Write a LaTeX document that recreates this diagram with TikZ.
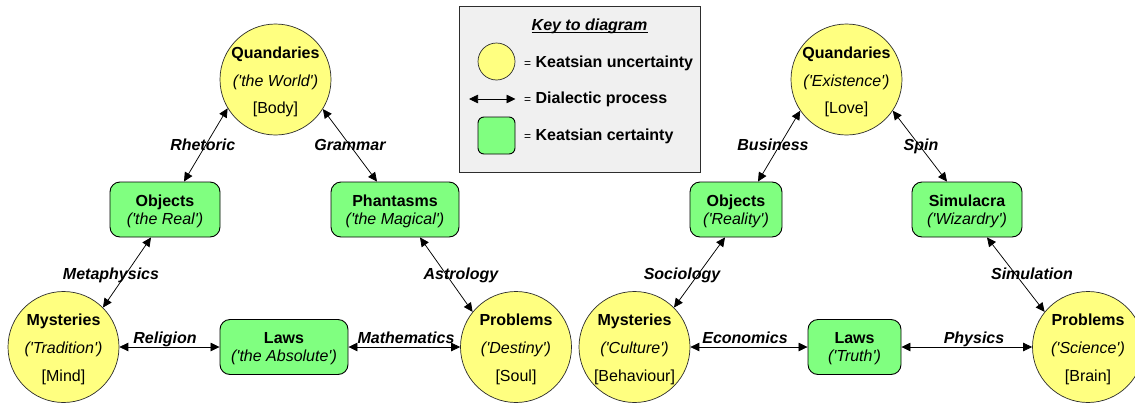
\documentclass[tikz,border=0pt]{standalone}
\usepackage{fontspec}
\setmainfont{Liberation Sans}
\usetikzlibrary{arrows.meta}

\definecolor{ucfill}{RGB}{255,255,128}
\definecolor{cfill}{RGB}{128,255,128}
\definecolor{keyfill}{RGB}{240,240,240}
\definecolor{rimgray}{RGB}{45,45,45}

\newcommand\sq{\textquotesingle}
% three stacked lines (bold / italic / plain), 27.6pt apart,
% centred on the caps of the middle line
\newcommand\trio[3]{{\renewcommand\arraystretch{0}\setlength\tabcolsep{0pt}%
  \begin{tabular}{c}
  \rule[-15.9pt]{0pt}{32.9pt}\bfseries #1\\
  \rule[-15.9pt]{0pt}{27.6pt}\itshape #2\\
  \rule[-4pt]{0pt}{15.7pt}#3
  \end{tabular}}}
% two stacked lines (bold / italic), 18pt apart
\newcommand\duo[2]{{\renewcommand\arraystretch{0}\setlength\tabcolsep{0pt}%
  \begin{tabular}{c}
  \rule[-6pt]{0pt}{21pt}\bfseries #1\\
  \rule[-4pt]{0pt}{16pt}\itshape #2
  \end{tabular}}}

\begin{document}
\begin{tikzpicture}[x=1pt,y=-1pt,
  every node/.append style={font=\fontsize{16pt}{18pt}\selectfont},
  ucirc/.style={circle, draw=rimgray, line width=0.7pt, fill=ucfill,
                minimum size=111pt, inner sep=0pt},
  cbox/.style={rectangle, rounded corners=10pt, draw=black, line width=0.9pt,
               fill=cfill, minimum height=55pt, inner sep=0pt},
  ctxt/.style={inner sep=0pt},
  dia/.style={arrows={Triangle[length=9pt,width=8.5pt]-Triangle[length=9pt,width=8.5pt]},
              line width=0.75pt},
  lab/.style={anchor=base, inner sep=0pt,
              font=\fontsize{16pt}{18pt}\selectfont\bfseries\itshape},
  keybox/.style={rectangle, draw=rimgray, line width=1pt, fill=keyfill,
                 minimum width=241pt, minimum height=166.5pt, inner sep=0pt},
  keytxt/.style={anchor=base west, inner sep=0pt,
                 font=\fontsize{16pt}{18pt}\selectfont\bfseries}]

\fill[white] (0,0) rectangle (1135,402);
\useasboundingbox (0,0) rectangle (1135,402);

% ---------- left triad ----------
\node[ucirc] (QL) at (275.5,79.5) {};
\node[ctxt] (QLt) at (QL) {\trio{Quandaries}{(\sq the World\sq)}{[Body]}};
\node[cbox, minimum width=110pt] (ObjL) at (165,209.5) {\duo{Objects}{(\sq the Real\sq)}};
\node[cbox, minimum width=128pt] (PhL) at (395,209.5) {\duo{Phantasms}{(\sq the Magical\sq)}};
\node[ucirc] (MyL) at (63.5,347) {};
\node[ctxt] (MyLt) at (MyL) {\trio{Mysteries}{(\sq Tradition\sq)}{[Mind]}};
\node[cbox, minimum width=128pt] (LawL) at (284,347) {\duo{Laws}{(\sq the Absolute\sq)}};
\node[ucirc] (PrL) at (516,347) {};
\node[ctxt] (PrLt) at (PrL) {\trio{Problems}{(\sq Destiny\sq)}{[Soul]}};

\draw[dia] (QL.211.5) -- ([xshift=19pt]ObjL.north);
\draw[dia] (QL.328.5) -- ([xshift=-18pt]PhL.north);
\draw[dia] ([xshift=-14pt]ObjL.south) -- (MyL.45);
\draw[dia] ([xshift=25pt]PhL.south) -- (PrL.141);
\draw[dia] (MyL) -- (LawL);
\draw[dia] (LawL) -- (PrL);

\node[lab] (lRhet) at (202.7,150) {Rhetoric};
\node[lab] (lGram) at (350,150) {Grammar};
\node[lab] (lMeta) at (111,279) {Metaphysics};
\node[lab] (lAstr) at (461,279) {Astrology};
\node[lab] (lReli) at (165,343.3) {Religion};
\node[lab] (lMath) at (406,343.3) {Mathematics};

% ---------- right triad ----------
\node[ucirc] (QR) at (846.5,79.5) {};
\node[ctxt] (QRt) at (QR) {\trio{Quandaries}{(\sq Existence\sq)}{[Love]}};
\node[cbox, minimum width=92pt] (ObjR) at (736,209.5) {\duo{Objects}{(\sq Reality\sq)}};
\node[cbox, minimum width=110pt] (SimR) at (967,209.5) {\duo{Simulacra}{(\sq Wizardry\sq)}};
\node[ucirc] (MyR) at (634.5,347) {};
\node[ctxt] (MyRt) at (MyR) {\trio{Mysteries}{(\sq Culture\sq)}{[Behaviour]}};
\node[cbox, minimum width=93pt] (LawR) at (854.5,347) {\duo{Laws}{(\sq Truth\sq)}};
\node[ucirc] (PrR) at (1088,347) {};
\node[ctxt] (PrRt) at (PrR) {\trio{Problems}{(\sq Science\sq)}{[Brain]}};

\draw[dia] (QR.214) -- ([xshift=22pt]ObjR.north);
\draw[dia] (QR.326) -- ([xshift=-20pt]SimR.north);
\draw[dia] ([xshift=-11pt]ObjR.south) -- (MyR.45);
\draw[dia] ([xshift=20pt]SimR.south) -- (PrR.141);
\draw[dia] (MyR) -- (LawR);
\draw[dia] (LawR) -- (PrR);

\node[lab] (lBusi) at (773,150) {Business};
\node[lab] (lSpin) at (921,150) {Spin};
\node[lab] (lSoci) at (682,279) {Sociology};
\node[lab] (lSimu) at (1032,279) {Simulation};
\node[lab] (lEcon) at (745,343.3) {Economics};
\node[lab] (lPhys) at (974,343.3) {Physics};

% ---------- key ----------
\node[keybox] (key) at (579.5,89.25) {};
\node[lab] (ktitle) at (589.5,30.7) {Key to diagram};
\draw[line width=1.1pt] ([yshift=-1.8pt]ktitle.base west) -- ([yshift=-1.8pt]ktitle.base east);
\node[ucirc, minimum size=37pt] (kcirc) at (496.5,61.5) {};
\coordinate (karrA) at (469,99);
\coordinate (karrB) at (515.5,99);
\draw[dia] (karrA) -- (karrB);
\node[cbox, rounded corners=6pt, minimum width=37pt, minimum height=37pt] (ksq) at (496.5,135.5) {};
\node[keytxt] (kUnc) at (524,67.7) {{\mdseries\fontsize{12pt}{14pt}\selectfont=} Keatsian uncertainty};
\node[keytxt] (kDia) at (524,103.5) {{\mdseries\fontsize{12pt}{14pt}\selectfont=} Dialectic process};
\node[keytxt] (kCer) at (524,140) {{\mdseries\fontsize{12pt}{14pt}\selectfont=} Keatsian certainty};
\end{tikzpicture}
\end{document}
